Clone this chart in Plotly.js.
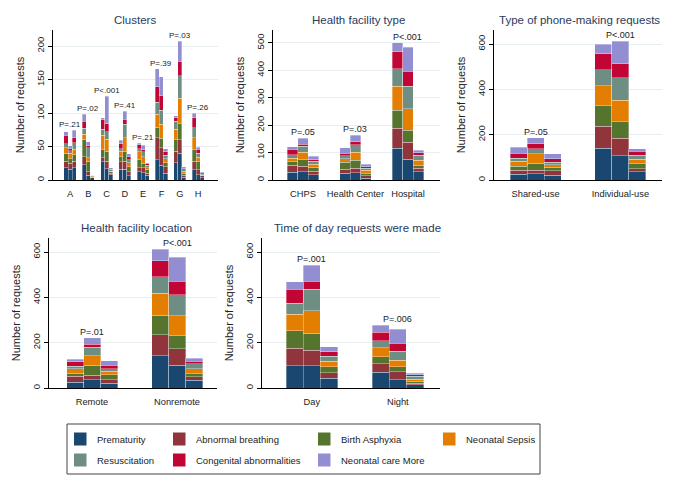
<!DOCTYPE html>
<html><head><meta charset="utf-8">
<script src="https://cdn.plot.ly/plotly-3.0.1.min.js"></script>
<style>html,body{margin:0;padding:0;background:#fff}#chart{width:677px;height:486px}</style>
</head><body><div id="chart"></div>
<script>
const seriesNames = ["Prematurity","Abnormal breathing","Birth Asphyxia","Neonatal Sepsis","Resuscitation","Congenital abnormalities","Neonatal care More"];
const seriesColors = ["#1a476f","#90353b","#55752f","#e37e00","#6e8e84","#c10534","#938dd2"];

// Each row = one series (order of seriesNames); columns go group by group, three bars per group.
const clusterLabels = ["A","B","C","D","E","F","G","H"];
const clusterPValues = ["P=.21","P=.02","P<.001","P=.41","P=.21","P=.39","P=.03","P=.26"];
const clusterCounts = [
 [18,16,18, 23,7,3, 27,17,8, 16,16,6, 12,11,7, 30,22,10, 26,40,4, 15,8,3],
 [10,9,10, 12,5,1, 6,11,2, 11,12,6, 6,7,3, 33,26,10, 17,20,3, 13,7,3],
 [12,7,10, 25,16,1, 12,15,2, 8,15,8, 12,6,5, 16,14,6, 17,24,3, 17,12,1],
 [8,8,8, 8,5,1, 22,18,1, 8,20,6, 12,11,3, 19,21,6, 16,38,3, 18,7,1],
 [6,4,10, 9,15,1, 9,11,2, 4,20,4, 5,7,4, 18,21,5, 12,34,2, 15,6,1],
 [13,3,7, 11,3,0, 14,12,1, 7,8,5, 6,3,2, 23,22,5, 5,21,2, 15,6,2],
 [5,4,11, 10,6,1, 3,41,2, 5,12,4, 2,7,2, 27,28,5, 3,30,3, 7,3,1]
];

const facilityLabels = ["CHPS","Health Center","Hospital"];
const facilityPValues = ["P=.05","P=.03","P<.001"];
const facilityCounts = [
 [29,30,20, 25,27,7, 115,75,30],
 [24,20,12, 15,16,8, 73,62,12],
 [14,23,15, 24,29,7, 66,45,12],
 [13,29,11, 14,30,13, 87,78,18],
 [12,21,10, 10,26,7, 65,81,18],
 [20,7,6, 9,12,6, 62,56,10],
 [10,22,12, 20,23,10, 32,87,9]
];

const phoneLabels = ["Shared-use","Individual-use"];
const phonePValues = ["P=.05","P<.001"];
const phoneCounts = [
 [26,28,22, 141,107,37],
 [17,16,18, 96,78,13],
 [17,31,16, 91,71,21],
 [22,41,12, 88,95,20],
 [15,22,11, 71,100,18],
 [22,22,14, 70,61,17],
 [25,27,22, 43,100,12]
];

const locationLabels = ["Remote","Nonremote"];
const locationPValues = ["P=.01","P<.001"];
const locationCounts = [
 [25,37,22, 143,100,34],
 [26,19,15, 91,74,16],
 [15,45,22, 87,57,13],
 [19,42,15, 98,88,22],
 [11,36,11, 71,93,21],
 [20,15,16, 72,59,13],
 [12,28,20, 51,105,12]
];

const timeLabels = ["Day","Night"];
const timePValues = ["P=.001","P=.006"];
const timeCounts = [
 [98,98,43, 69,36,14],
 [78,68,25, 39,35,8],
 [77,75,26, 29,23,8],
 [72,101,24, 41,29,9],
 [48,94,22, 31,39,12],
 [62,36,19, 36,36,7],
 [34,69,24, 31,62,7]
];

const W = 677, H = 486;
const px = v => v / W;
const py = v => 1 - v / H;

const panels = [
 {title:"Clusters", labels:clusterLabels, pvals:clusterPValues, counts:clusterCounts,
  box:[53,218,30,180], xr:[-0.93,8.09], yr:[0,224], dtick:50, bw:0.22, pfont:8, tx:135, ty:20},
 {title:"Health facility type", labels:facilityLabels, pvals:facilityPValues, counts:facilityCounts,
  box:[273,440,30,180], xr:[-0.57,2.61], yr:[0,547], dtick:100, bw:0.2, pfont:9, tx:358, ty:20},
 {title:"Type of phone-making requests", labels:phoneLabels, pvals:phonePValues, counts:phoneCounts,
  box:[494,662,30,180], xr:[-0.49,1.49], yr:[0,662], dtick:200, bw:0.2, pfont:9, tx:579, ty:20},
 {title:"Health facility location", labels:locationLabels, pvals:locationPValues, counts:locationCounts,
  box:[49,217,238,388], xr:[-0.506,1.47], yr:[0,662], dtick:200, bw:0.2, pfont:9, tx:136, ty:228},
 {title:"Time of day requests were made", labels:timeLabels, pvals:timePValues, counts:timeCounts,
  box:[262,440,238,388], xr:[-0.58,1.49], yr:[0,662], dtick:200, bw:0.2, pfont:9, tx:357, ty:228}
];

const FONT = "Liberation Sans, Arial, sans-serif";
const traces = [];
const layout = {
  width: W, height: H, margin:{l:0,r:0,t:0,b:0},
  paper_bgcolor:"#fff", plot_bgcolor:"#fff",
  barmode:"stack", showlegend:false,
  font:{family:FONT, color:"#222"},
  annotations:[], shapes:[]
};

panels.forEach((p, k) => {
  const n = k + 1;
  const xa = n === 1 ? "x" : "x" + n;
  const ya = n === 1 ? "y" : "y" + n;
  const nG = p.labels.length;
  const xs = [];
  for (let g = 0; g < nG; g++) for (let b = 0; b < 3; b++) xs.push(g + (b - 1) * p.bw);
  p.counts.forEach((vals, s) => {
    traces.push({
      type:"bar", x:xs, y:vals, width:p.bw, xaxis:xa, yaxis:ya, name:seriesNames[s],
      marker:{color:seriesColors[s], line:{color:"rgba(255,255,255,0.55)", width:0.6}},
      hoverinfo:"name+y"
    });
  });
  const ticks = [];
  for (let v = 0; v <= p.yr[1]; v += p.dtick) ticks.push(v);
  layout["xaxis" + (n === 1 ? "" : n)] = {
    domain:[px(p.box[0]), px(p.box[1])], anchor:ya, range:p.xr,
    tickvals:p.labels.map((_, i) => i), ticktext:p.labels, tickangle:0,
    ticks:"outside", ticklen:5, tickcolor:"rgba(0,0,0,0)",
    showline:true, linecolor:"#000", linewidth:1, showgrid:false, zeroline:false,
    tickfont:{size:9.3, color:"#222"}, fixedrange:true
  };
  layout["yaxis" + (n === 1 ? "" : n)] = {
    domain:[py(p.box[3]), py(p.box[2])], anchor:xa, range:p.yr,
    tickvals:ticks, ticks:"outside", ticklen:4, tickcolor:"#000", tickangle:-90,
    showline:true, linecolor:"#000", linewidth:1, showgrid:true, gridcolor:"#e6eef1", gridwidth:1,
    zeroline:false, tickfont:{size:9.5, color:"#222"},
    title:{text:"Number of requests", font:{size:11, color:"#222"}, standoff:8}, fixedrange:true
  };
  // P-value annotations above the tallest bar of each group
  for (let g = 0; g < nG; g++) {
    let mx = 0;
    for (let b = 0; b < 3; b++) {
      const col = g * 3 + b;
      const tot = p.counts.reduce((a, row) => a + row[col], 0);
      if (tot > mx) mx = tot;
    }
    layout.annotations.push({
      xref:xa, yref:ya, x:g, y:mx, text:p.pvals[g], showarrow:false,
      yanchor:"bottom", yshift:0, borderpad:0, font:{size:p.pfont, color:"#222"}
    });
  }
  layout.annotations.push({
    xref:"paper", yref:"paper", x:px(p.tx), y:py(p.ty), text:p.title, showarrow:false,
    xanchor:"center", yanchor:"middle", borderpad:0, font:{size:11.5, color:"#2b3a5c"}
  });
});

// Legend (drawn manually to reproduce the 4-column grid)
layout.shapes.push({type:"rect", xref:"paper", yref:"paper",
  x0:px(67), x1:px(540), y0:py(474), y1:py(424), line:{color:"#444", width:1}, fillcolor:"rgba(0,0,0,0)"});
const colSw = [74, 173, 318, 443];
const colTx = [95, 194, 339, 464];
const rowY = [439, 460];
seriesNames.forEach((name, i) => {
  const r = Math.floor(i / 4), c = i % 4;
  layout.shapes.push({type:"rect", xref:"paper", yref:"paper",
    x0:px(colSw[c]), x1:px(colSw[c] + 12.5), y0:py(rowY[r] + 6.5), y1:py(rowY[r] - 6.5),
    fillcolor:seriesColors[i], line:{width:0}});
  layout.annotations.push({xref:"paper", yref:"paper", x:px(colTx[c]), y:py(rowY[r]),
    text:name, showarrow:false, xanchor:"left", yanchor:"middle", font:{size:9.5, color:"#222"}});
});

Plotly.newPlot("chart", traces, layout, {staticPlot:true, displayModeBar:false});
</script></body></html>
